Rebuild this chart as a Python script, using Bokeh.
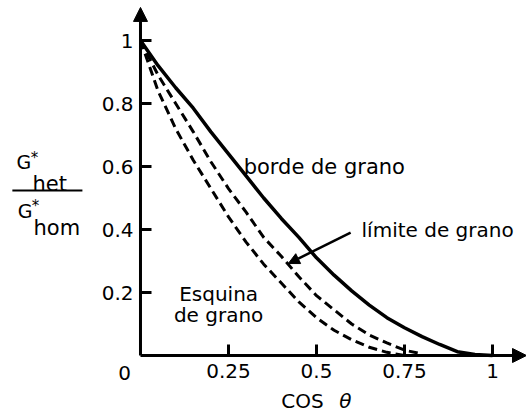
from bokeh.plotting import figure
from bokeh.models import Range1d, FixedTicker, Arrow, NormalHead, Label
from bokeh.embed import file_html
from bokeh.resources import INLINE

# --- data (cos theta vs G*het/G*hom) ---
x_borde = [0, 0.05, 0.1, 0.15, 0.2, 0.25, 0.3, 0.35, 0.4, 0.45, 0.5, 0.55, 0.6, 0.65, 0.7, 0.75, 0.8, 0.85, 0.9, 0.95, 1.0]
y_borde = [1.0, 0.92, 0.85, 0.785, 0.71, 0.64, 0.57, 0.50, 0.435, 0.375, 0.31, 0.255, 0.205, 0.16, 0.12, 0.088, 0.06, 0.035, 0.012, 0.003, 0.0]

x_limite = [0, 0.05, 0.1, 0.15, 0.2, 0.25, 0.3, 0.35, 0.4, 0.45, 0.5, 0.55, 0.6, 0.65, 0.7, 0.75, 0.8]
y_limite = [1.0, 0.89, 0.80, 0.71, 0.615, 0.53, 0.455, 0.375, 0.315, 0.25, 0.19, 0.145, 0.10, 0.065, 0.04, 0.017, 0.005]

x_esquina = [0, 0.05, 0.1, 0.15, 0.2, 0.25, 0.3, 0.35, 0.4, 0.45, 0.5, 0.55, 0.6, 0.65, 0.7, 0.75]
y_esquina = [1.0, 0.84, 0.72, 0.62, 0.53, 0.44, 0.36, 0.29, 0.23, 0.17, 0.12, 0.08, 0.05, 0.026, 0.01, 0.0]

x_ticks = [0.25, 0.5, 0.75, 1.0]
x_tick_labels = ["0.25", "0.5", "0.75", "1"]
y_ticks = [0.2, 0.4, 0.6, 0.8, 1.0]
y_tick_labels = ["0.2", "0.4", "0.6", "0.8", "1"]

FONT = "DejaVu Sans"
X_START, X_END = -0.3977, 1.0966
Y_START, Y_END = -0.1873, 1.127

p = figure(width=526, height=414, x_range=Range1d(X_START, X_END), y_range=Range1d(Y_START, Y_END),
           output_backend="svg", toolbar_location=None,
           min_border_left=0, min_border_right=0, min_border_top=0, min_border_bottom=0)
p.outline_line_color = None
p.xgrid.grid_line_color = None
p.ygrid.grid_line_color = None
p.background_fill_color = "white"
p.border_fill_color = "white"

for ax, ticks, labels in ((p.xaxis[0], x_ticks, x_tick_labels), (p.yaxis[0], y_ticks, y_tick_labels)):
    ax.fixed_location = 0
    ax.ticker = FixedTicker(ticks=ticks)
    ax.major_label_overrides = {t: l for t, l in zip(ticks, labels)}
    ax.axis_line_color = None
    ax.major_tick_in = 11
    ax.major_tick_out = 0
    ax.major_tick_line_width = 3
    ax.major_tick_line_color = "black"
    ax.minor_tick_line_color = None
    ax.major_label_text_font = FONT
    ax.major_label_text_font_size = "20px"
    ax.major_label_text_color = "black"
p.xaxis.major_label_standoff = 8
p.yaxis.major_label_standoff = 7

# curves
p.line(x_borde, y_borde, line_width=3.5, color="black")
p.line(x_limite, y_limite, line_width=3, color="black", line_dash="9 5")
p.line(x_esquina, y_esquina, line_width=3, color="black", line_dash="9 5")

# axes drawn as arrows
p.add_layout(Arrow(end=NormalHead(size=14, fill_color="black", line_color="black"),
                   x_start=0, y_start=0, x_end=X_END, y_end=0, line_width=3, line_color="black"))
p.add_layout(Arrow(end=NormalHead(size=14, fill_color="black", line_color="black"),
                   x_start=0, y_start=0, x_end=0, y_end=1.105, line_width=3, line_color="black"))

# pointer to "límite de grano"
p.add_layout(Arrow(end=NormalHead(size=11, fill_color="black", line_color="black"),
                   x_start=0.597, y_start=0.39, x_end=0.42, y_end=0.292, line_width=2.5, line_color="black"))

def lab(x, y, t, size="20px", align="left", style="normal", baseline="alphabetic"):
    p.add_layout(Label(x=x, y=y, text=t, text_font=FONT, text_font_size=size, text_align=align,
                       text_baseline=baseline, text_font_style=style, text_color="black"))

lab(0.293, 0.597, "borde de grano", "21px")
lab(0.628, 0.397, "límite de grano")
lab(0.222, 0.194, "Esquina", align="center")
lab(0.222, 0.130, "de grano", align="center")

# corner zero
lab(-0.045, -0.054, "0", baseline="middle", align="center")

# x axis title
lab(0.400, -0.143, "COS")
lab(0.565, -0.143, "θ", style="italic")

# y axis title as a fraction
lab(-0.352, 0.613, "G", "19px")
lab(-0.312, 0.628, "*", "15px")
lab(-0.307, 0.546, "het", "21px")
p.add_layout(Arrow(end=None, x_start=-0.364, y_start=0.524, x_end=-0.165, y_end=0.524,
                   line_width=2, line_color="black"))
lab(-0.349, 0.460, "G", "19px")
lab(-0.309, 0.475, "*", "15px")
lab(-0.304, 0.406, "hom", "21px")

open("out.html", "w").write(file_html(p, INLINE))
